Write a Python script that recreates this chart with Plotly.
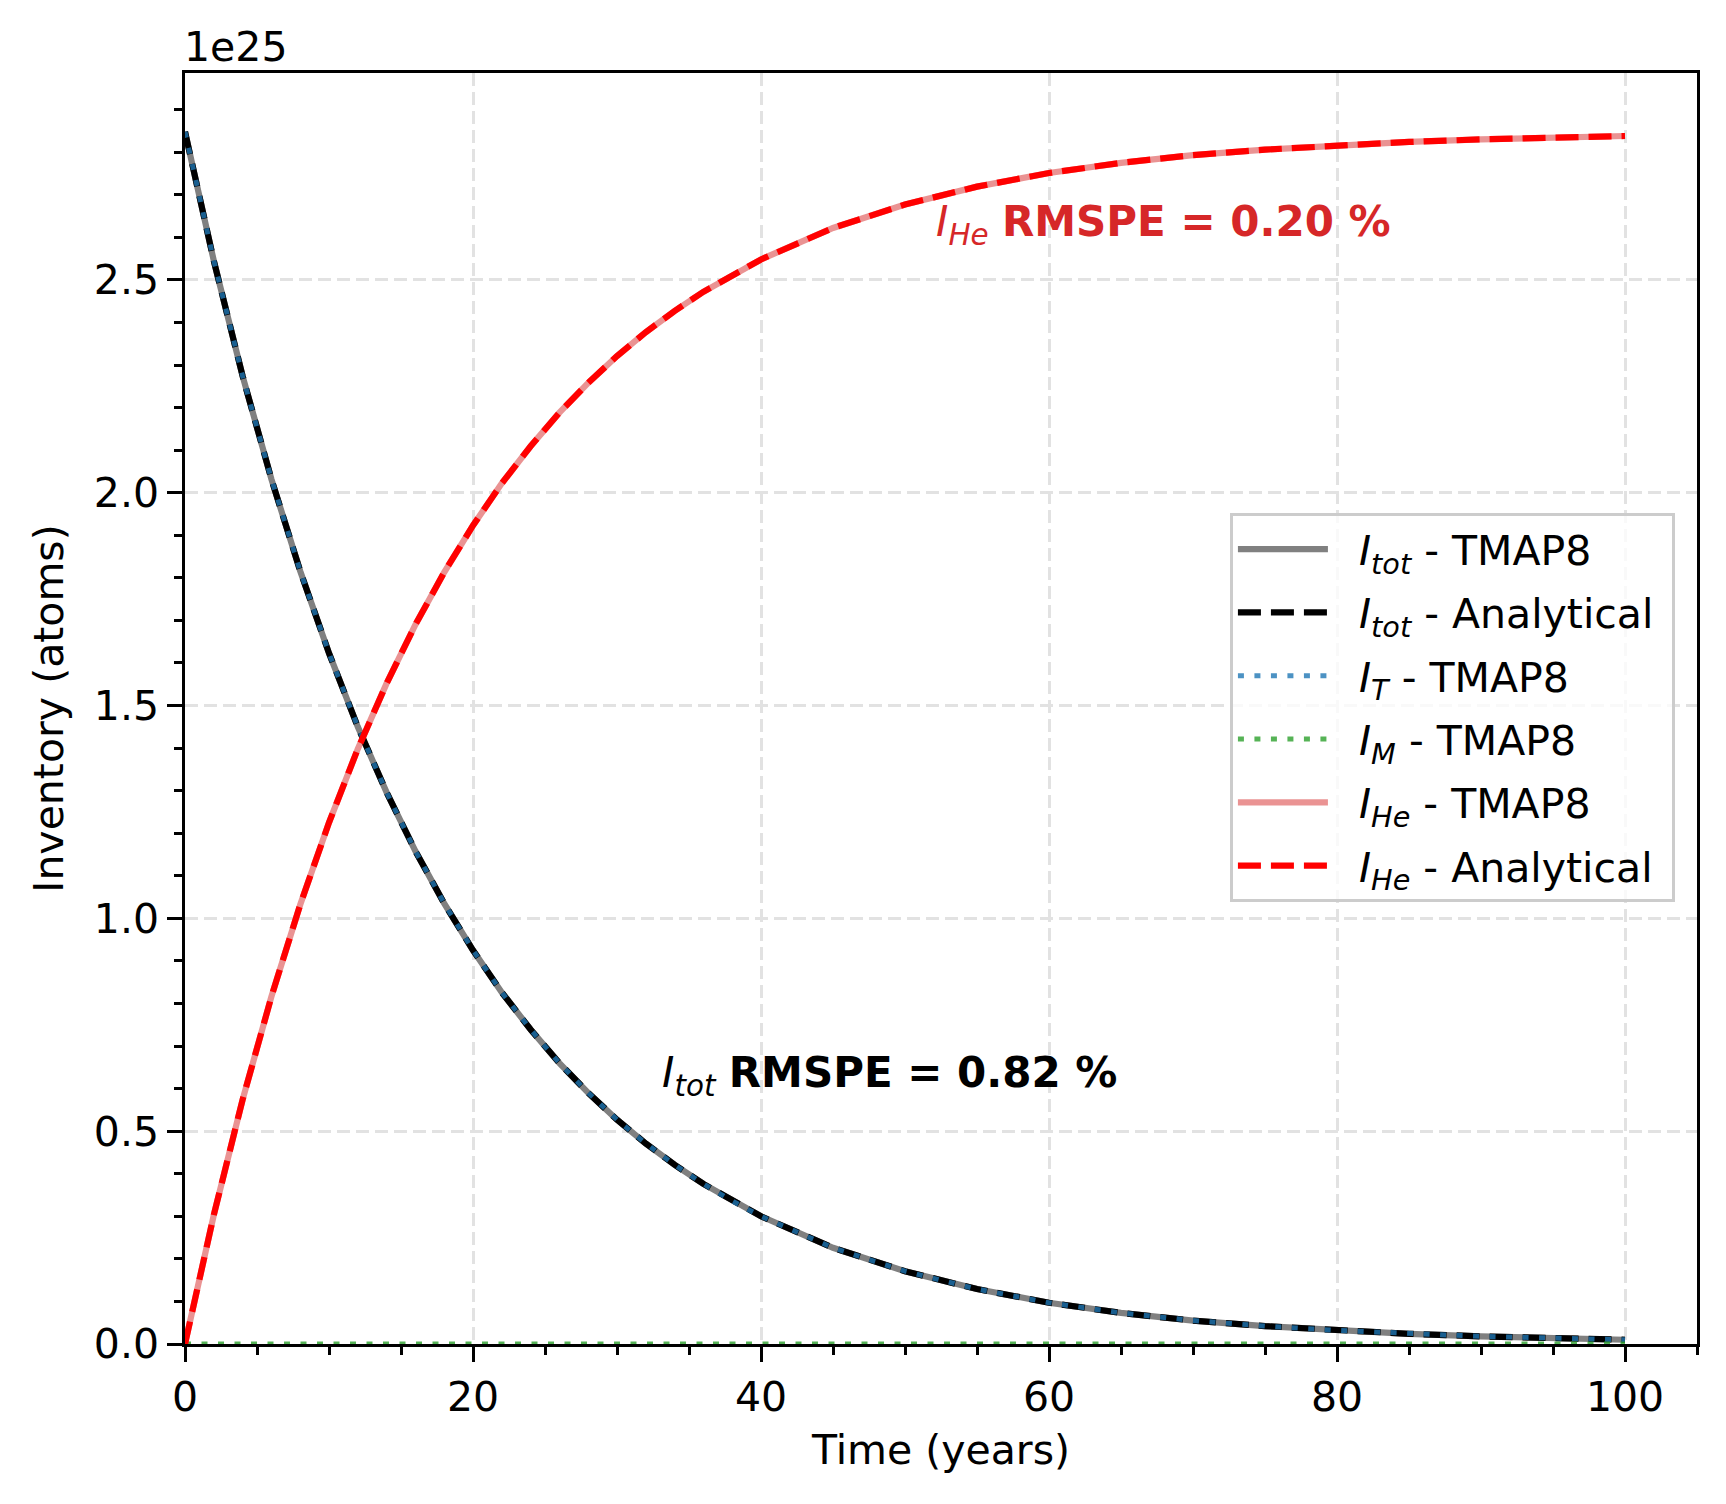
import plotly.graph_objects as go

# Time (years)
time_years = [0, 2, 4, 6, 8, 10, 12, 14, 16, 18, 20, 22, 24, 26, 28, 30, 32, 34, 36, 38,
              40, 45, 50, 55, 60, 65, 70, 75, 80, 85, 90, 95, 100]

# Inventories in units of 1e25 atoms
inv_tot_tmap8 = [2.848, 2.545, 2.274, 2.032, 1.816, 1.623, 1.450, 1.296, 1.158, 1.035,
                 0.925, 0.826, 0.739, 0.660, 0.590, 0.527, 0.471, 0.421, 0.376, 0.336,
                 0.300, 0.226, 0.171, 0.129, 0.097, 0.073, 0.055, 0.042, 0.032, 0.024,
                 0.018, 0.014, 0.010]
inv_tot_analytical = [2.848, 2.545, 2.274, 2.032, 1.816, 1.623, 1.450, 1.296, 1.158, 1.035,
                      0.925, 0.826, 0.739, 0.660, 0.590, 0.527, 0.471, 0.421, 0.376, 0.336,
                      0.300, 0.226, 0.171, 0.129, 0.097, 0.073, 0.055, 0.042, 0.032, 0.024,
                      0.018, 0.014, 0.010]
inv_T_tmap8 = [2.848, 2.545, 2.274, 2.032, 1.816, 1.623, 1.450, 1.296, 1.158, 1.035,
               0.925, 0.826, 0.739, 0.660, 0.590, 0.527, 0.471, 0.421, 0.376, 0.336,
               0.300, 0.226, 0.171, 0.129, 0.097, 0.073, 0.055, 0.042, 0.032, 0.024,
               0.018, 0.014, 0.010]
inv_M_tmap8 = [0.0] * len(time_years)
inv_He_tmap8 = [0.000, 0.303, 0.574, 0.816, 1.032, 1.225, 1.398, 1.552, 1.690, 1.813,
                1.923, 2.022, 2.109, 2.188, 2.258, 2.321, 2.377, 2.427, 2.472, 2.512,
                2.548, 2.622, 2.677, 2.719, 2.751, 2.775, 2.793, 2.806, 2.816, 2.824,
                2.830, 2.834, 2.838]
inv_He_analytical = [0.000, 0.303, 0.574, 0.816, 1.032, 1.225, 1.398, 1.552, 1.690, 1.813,
                     1.923, 2.022, 2.109, 2.188, 2.258, 2.321, 2.377, 2.427, 2.472, 2.512,
                     2.548, 2.622, 2.677, 2.719, 2.751, 2.775, 2.793, 2.806, 2.816, 2.824,
                     2.830, 2.834, 2.838]

x_ticks = [0, 20, 40, 60, 80, 100]
y_ticks = [0.0, 0.5, 1.0, 1.5, 2.0, 2.5]

FONT = "DejaVu Sans"
FS = 41
GAP = "&nbsp;&nbsp;"
END = "&nbsp;"

fig = go.Figure()
fig.add_trace(go.Scatter(x=time_years, y=inv_tot_tmap8, mode="lines", legendgroup="a",
                         name=GAP + "<i>I</i><sub><i>tot</i></sub> - TMAP8" + END,
                         line=dict(color="#808080", width=6.2)))
fig.add_trace(go.Scatter(x=time_years, y=inv_tot_analytical, mode="lines", legendgroup="b",
                         name=GAP + "<i>I</i><sub><i>tot</i></sub> - Analytical" + END,
                         line=dict(color="black", width=6.2, dash="23px,10px")))
fig.add_trace(go.Scatter(x=time_years, y=inv_T_tmap8, mode="lines", legendgroup="c",
                         name=GAP + "<i>I</i><sub><i>T</i></sub> - TMAP8" + END,
                         line=dict(color="rgba(31,119,180,0.8)", width=5, dash="6px,10.5px")))
fig.add_trace(go.Scatter(x=time_years, y=inv_M_tmap8, mode="lines", legendgroup="d",
                         name=GAP + "<i>I</i><sub><i>M</i></sub> - TMAP8" + END,
                         line=dict(color="rgba(44,160,44,0.8)", width=5, dash="6px,10.5px")))
fig.add_trace(go.Scatter(x=time_years, y=inv_He_tmap8, mode="lines", legendgroup="e",
                         name=GAP + "<i>I</i><sub><i>He</i></sub> - TMAP8" + END,
                         line=dict(color="rgba(214,39,40,0.5)", width=6.2)))
fig.add_trace(go.Scatter(x=time_years, y=inv_He_analytical, mode="lines", legendgroup="f",
                         name=GAP + "<i>I</i><sub><i>He</i></sub> - Analytical" + END,
                         line=dict(color="red", width=6.2, dash="23px,10px")))

axis_common = dict(
    showline=True, linecolor="black", linewidth=3.3, mirror=True,
    ticks="outside", ticklen=14.6, tickwidth=3.3, tickcolor="black",
    tickfont=dict(family=FONT, size=FS, color="black"),
    showgrid=True, gridcolor="#e2e2e2", gridwidth=3.3, griddash="13px,6px",
    zeroline=False,
)

fig.update_xaxes(range=[0, 105], tickvals=x_ticks, ticktext=[str(v) for v in x_ticks],
                 minor=dict(dtick=5, tick0=0, ticks="outside", ticklen=8.3, tickwidth=3.3,
                            tickcolor="black", showgrid=False),
                 title=dict(text="Time (years)", font=dict(family=FONT, size=FS, color="black"),
                            standoff=16),
                 **axis_common)
fig.update_yaxes(range=[0, 2.986], tickvals=y_ticks, ticktext=[f"{v:.1f}" for v in y_ticks],
                 minor=dict(dtick=0.1, tick0=0, ticks="outside", ticklen=8.3, tickwidth=3.3,
                            tickcolor="black", showgrid=False),
                 title=dict(text="Inventory (atoms)", font=dict(family=FONT, size=FS, color="black"),
                            standoff=18),
                 **axis_common)

fig.add_annotation(x=33, y=0.63, xref="x", yref="y", xanchor="left", yanchor="middle",
                   text="<i>I</i><sub><i>tot</i></sub> <b>RMSPE = 0.82 %</b>",
                   showarrow=False, font=dict(family=FONT, size=42, color="black"))
fig.add_annotation(x=52, y=2.63, xref="x", yref="y", xanchor="left", yanchor="middle",
                   text="<i>I</i><sub><i>He</i></sub> <b>RMSPE = 0.20 %</b>",
                   showarrow=False, font=dict(family=FONT, size=42, color="#d62728"))
fig.add_annotation(x=0, y=1, xref="paper", yref="paper", xanchor="left", yanchor="bottom",
                   yshift=0, xshift=-3, text="1e25", showarrow=False,
                   font=dict(family=FONT, size=FS, color="black"))

fig.update_layout(
    width=1726, height=1504,
    margin=dict(l=185, r=29, t=73, b=160),
    paper_bgcolor="white", plot_bgcolor="white",
    font=dict(family=FONT, size=FS, color="black"),
    showlegend=True,
    legend=dict(x=0.9854, y=0.6538, xanchor="right", yanchor="top",
                bgcolor="rgba(255,255,255,0.8)", bordercolor="#cccccc", borderwidth=3,
                font=dict(family=FONT, size=FS, color="black"), itemwidth=90,
                tracegroupgap=7),
)

fig.write_html("out.html")
